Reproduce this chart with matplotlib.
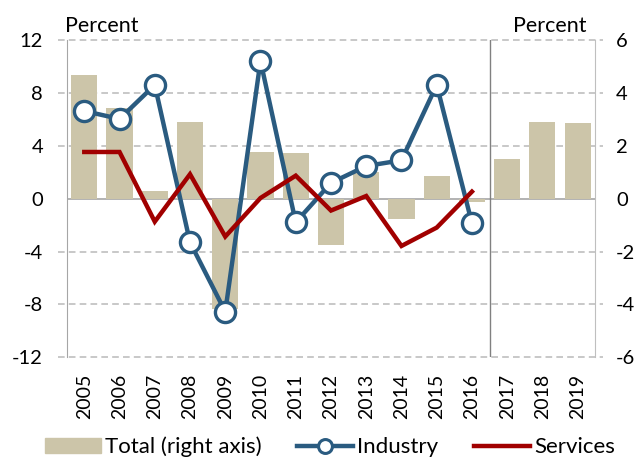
import matplotlib
matplotlib.use("Agg")
import matplotlib.pyplot as plt
from matplotlib.lines import Line2D
from matplotlib.patches import Patch
import numpy as np

plt.rcParams['font.family'] = ['Lato', 'DejaVu Sans']

years = [str(y) for y in range(2005, 2020)]
total = [4.68, 3.42, 0.29, 2.90, -4.18, 1.77, 1.73, -1.75, 1.00, -0.76, 0.85, -0.14, 1.49, 2.90, 2.87]
industry = [6.63, 6.03, 8.60, -3.30, -8.55, 10.42, -1.79, 1.19, 2.47, 2.90, 8.60, -1.86]
services = [3.53, 3.53, -1.74, 1.85, -2.87, 0.05, 1.74, -0.90, 0.20, -3.58, -2.19, 0.53]
left_ticks = [-12, -8, -4, 0, 4, 8, 12]
right_ticks = [-6, -4, -2, 0, 2, 4, 6]

bar_color = '#CCC5A9'
ind_color = '#2A5B80'
srv_color = '#A10000'

fig = plt.figure(figsize=(6.41, 4.61), dpi=100)
ax = fig.add_axes([0.104, 0.225, 0.8247, 0.6882])
ax2 = ax.twinx()
ax.set_zorder(ax2.get_zorder() + 1)
ax.patch.set_visible(False)

x = np.arange(len(years))
ax2.bar(x, total, width=0.74, color=bar_color, zorder=2)
ax2.set_ylim(-6, 6)
ax2.set_yticks(right_ticks)
ax2.set_yticklabels([str(t) for t in right_ticks])

xi = np.arange(len(industry))
ax.plot(xi, industry, color=ind_color, lw=3.2, marker='o', ms=14.5,
        mfc='white', mec=ind_color, mew=2.4, zorder=4, solid_joinstyle='miter')
ax.plot(np.arange(len(services)), services, color=srv_color, lw=3.2, zorder=5,
        solid_joinstyle='miter')

ax.set_xlim(-0.5, len(years) - 0.5)
ax.set_ylim(-12, 12)
ax.set_yticks(left_ticks)
ax.set_yticklabels([str(t) for t in left_ticks])
ax.set_xticks(x)
ax.set_xticklabels(years, rotation=90)

# grid lines (extend slightly beyond spines)
for t in left_ticks:
    if t == 0:
        ax2.plot([0, 1], [0, 0], transform=ax2.get_yaxis_transform(),
                 color='#A6A6A6', lw=1.2, zorder=1)
    else:
        ax2.plot([-0.016, 1.014], [t / 2, t / 2], transform=ax2.get_yaxis_transform(),
                 color='#BFBFBF', lw=1.2, ls=(0, (4, 2.5)), zorder=1, clip_on=False)

ax.axvline(11.5, color='#808080', lw=1.0, zorder=1)

for a in (ax, ax2):
    for s in ('top', 'bottom'):
        a.spines[s].set_visible(False)
ax.spines['left'].set_color('#A6A6A6')
ax.spines['right'].set_visible(False)
ax2.spines['left'].set_visible(False)
ax2.spines['right'].set_color('#BFBFBF')

ax.tick_params(axis='y', length=0, pad=17, labelsize=14.5)
ax2.tick_params(axis='y', length=0, pad=15, labelsize=14.5)
ax.tick_params(axis='x', length=0, pad=12, labelsize=14)
ax2.tick_params(axis='x', length=0)

fig.text(0.1014, 0.931, 'Percent', fontsize=15.5, ha='left', va='baseline')
fig.text(0.9157, 0.931, 'Percent', fontsize=15.5, ha='right', va='baseline')

handles = [
    Patch(color=bar_color, label='Total (right axis)'),
    Line2D([], [], color=ind_color, lw=3.2, marker='o', ms=10, mfc='white',
           mec=ind_color, mew=2.2, label='Industry'),
    Line2D([], [], color=srv_color, lw=3.2, label='Services'),
]
fig.legend(handles=handles, loc='center', bbox_to_anchor=(0.515, 0.03), ncol=3,
           frameon=False, fontsize=16, handlelength=2.5, handletextpad=0.2,
           columnspacing=1.6, borderpad=0.1)

fig.savefig('out.png', dpi=100)
